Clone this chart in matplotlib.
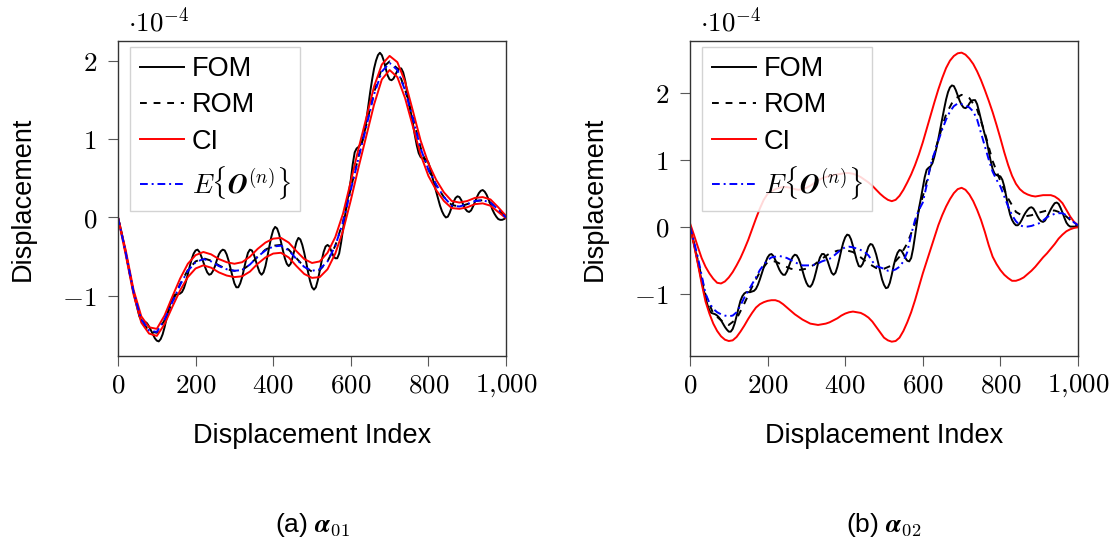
import numpy as np
import matplotlib
matplotlib.use('Agg')
import matplotlib.pyplot as plt

plt.rcParams['mathtext.fontset'] = 'cm'
plt.rcParams['font.family'] = ['Liberation Sans', 'DejaVu Sans']

# ---------------- data (values in units of 1e-4) ----------------
idx_5 = np.arange(0, 1001, 5)       # displacement index grid, step 5
idx_10 = np.arange(0, 1001, 10)     # displacement index grid, step 10
idx_20 = np.arange(0, 1001, 20)     # displacement index grid, step 20

a01_fom = [0.00, -0.10, -0.21, -0.33, -0.45, -0.58, -0.71, -0.83, -0.95, -1.06,
           -1.16, -1.26, -1.31, -1.33, -1.33, -1.35, -1.39, -1.44, -1.49, -1.54,
           -1.57, -1.58, -1.55, -1.49, -1.40, -1.29, -1.18, -1.09, -1.03, -0.99,
           -0.98, -0.98, -0.97, -0.95, -0.90, -0.82, -0.72, -0.62, -0.53, -0.46,
           -0.42, -0.41, -0.44, -0.50, -0.57, -0.64, -0.70, -0.73, -0.72, -0.68,
           -0.62, -0.54, -0.47, -0.43, -0.41, -0.42, -0.47, -0.55, -0.65, -0.75,
           -0.84, -0.89, -0.89, -0.84, -0.76, -0.65, -0.54, -0.45, -0.41, -0.42,
           -0.47, -0.55, -0.63, -0.70, -0.73, -0.70, -0.62, -0.50, -0.37, -0.25,
           -0.16, -0.12, -0.14, -0.21, -0.31, -0.42, -0.52, -0.59, -0.62, -0.59,
           -0.51, -0.41, -0.31, -0.26, -0.28, -0.35, -0.45, -0.57, -0.70, -0.81,
           -0.89, -0.92, -0.89, -0.80, -0.68, -0.55, -0.44, -0.37, -0.35, -0.37,
           -0.43, -0.49, -0.52, -0.52, -0.46, -0.32, -0.15, 0.02, 0.18, 0.32,
           0.48, 0.68, 0.83, 0.88, 0.90, 0.93, 0.98, 1.08, 1.24, 1.42,
           1.60, 1.76, 1.90, 2.00, 2.07, 2.10, 2.07, 2.00, 1.90, 1.81,
           1.76, 1.75, 1.77, 1.82, 1.87, 1.90, 1.90, 1.85, 1.75, 1.60,
           1.45, 1.33, 1.20, 1.05, 0.92, 0.82, 0.77, 0.75, 0.75, 0.74,
           0.70, 0.62, 0.52, 0.42, 0.33, 0.24, 0.15, 0.08, 0.03, 0.00,
           0.01, 0.06, 0.13, 0.20, 0.25, 0.27, 0.26, 0.22, 0.16, 0.11,
           0.08, 0.07, 0.09, 0.14, 0.20, 0.26, 0.31, 0.34, 0.35, 0.33,
           0.29, 0.23, 0.17, 0.10, 0.05, 0.01, -0.02, -0.03, -0.03, -0.02,
           0.00]
a01_rom = [0.00, -0.45, -0.96, -1.31, -1.45, -1.47, -1.31, -1.08, -0.85, -0.67,
           -0.56, -0.52, -0.55, -0.61, -0.66, -0.68, -0.67, -0.60, -0.50, -0.41,
           -0.36, -0.35, -0.41, -0.52, -0.63, -0.69, -0.67, -0.56, -0.36, -0.05,
           0.37, 0.78, 1.18, 1.60, 1.90, 1.99, 1.90, 1.63, 1.27, 0.89,
           0.61, 0.41, 0.26, 0.16, 0.14, 0.17, 0.21, 0.22, 0.19, 0.10,
           0.00]
a01_ci_up = [0.00, -0.42, -0.92, -1.26, -1.40, -1.42, -1.25, -1.01, -0.78, -0.59,
             -0.48, -0.44, -0.47, -0.53, -0.57, -0.59, -0.57, -0.50, -0.40, -0.32,
             -0.27, -0.26, -0.32, -0.43, -0.53, -0.58, -0.56, -0.45, -0.25, 0.05,
             0.46, 0.88, 1.27, 1.67, 1.95, 2.06, 1.98, 1.73, 1.36, 0.98,
             0.69, 0.48, 0.32, 0.21, 0.19, 0.21, 0.25, 0.26, 0.23, 0.13,
             0.02]
a01_ci_lo = [0.00, -0.48, -0.98, -1.34, -1.48, -1.51, -1.36, -1.14, -0.93, -0.76,
             -0.65, -0.61, -0.64, -0.70, -0.74, -0.76, -0.75, -0.69, -0.59, -0.51,
             -0.46, -0.45, -0.51, -0.62, -0.72, -0.77, -0.76, -0.66, -0.46, -0.17,
             0.22, 0.64, 1.04, 1.44, 1.76, 1.88, 1.79, 1.52, 1.16, 0.80,
             0.53, 0.35, 0.21, 0.12, 0.11, 0.13, 0.17, 0.18, 0.15, 0.07,
             -0.01]
a01_mean = [0.00, -0.45, -0.95, -1.30, -1.44, -1.46, -1.30, -1.08, -0.86, -0.68,
            -0.57, -0.53, -0.56, -0.62, -0.66, -0.68, -0.67, -0.60, -0.50, -0.42,
            -0.37, -0.36, -0.42, -0.53, -0.63, -0.68, -0.66, -0.56, -0.36, -0.06,
            0.35, 0.76, 1.16, 1.57, 1.86, 1.97, 1.88, 1.62, 1.26, 0.88,
            0.61, 0.42, 0.26, 0.15, 0.14, 0.17, 0.21, 0.22, 0.19, 0.10,
            0.00]

a02_fom = [0.00, -0.12, -0.25, -0.39, -0.53, -0.67, -0.81, -0.94, -1.06, -1.17,
           -1.25, -1.29, -1.30, -1.31, -1.33, -1.36, -1.40, -1.45, -1.50, -1.54,
           -1.57, -1.57, -1.53, -1.45, -1.34, -1.22, -1.11, -1.04, -1.00, -0.98,
           -0.98, -0.98, -0.97, -0.96, -0.93, -0.87, -0.79, -0.70, -0.61, -0.53,
           -0.46, -0.42, -0.41, -0.44, -0.50, -0.57, -0.64, -0.69, -0.72, -0.72,
           -0.67, -0.59, -0.51, -0.45, -0.42, -0.43, -0.48, -0.56, -0.66, -0.76,
           -0.84, -0.89, -0.90, -0.86, -0.78, -0.67, -0.55, -0.46, -0.41, -0.41,
           -0.45, -0.52, -0.61, -0.69, -0.72, -0.69, -0.60, -0.48, -0.35, -0.24,
           -0.16, -0.12, -0.13, -0.19, -0.29, -0.40, -0.51, -0.59, -0.60, -0.56,
           -0.48, -0.39, -0.30, -0.26, -0.27, -0.33, -0.42, -0.54, -0.67, -0.79,
           -0.87, -0.92, -0.91, -0.84, -0.72, -0.58, -0.47, -0.39, -0.35, -0.36,
           -0.41, -0.47, -0.51, -0.52, -0.47, -0.33, -0.14, 0.07, 0.27, 0.42,
           0.58, 0.74, 0.85, 0.88, 0.90, 0.95, 1.05, 1.17, 1.31, 1.46,
           1.61, 1.76, 1.90, 2.01, 2.08, 2.11, 2.10, 2.04, 1.96, 1.88,
           1.82, 1.78, 1.77, 1.79, 1.84, 1.88, 1.89, 1.89, 1.83, 1.72,
           1.60, 1.48, 1.37, 1.27, 1.12, 0.98, 0.86, 0.79, 0.77, 0.76,
           0.75, 0.70, 0.60, 0.45, 0.30, 0.18, 0.10, 0.05, 0.02, 0.02,
           0.05, 0.10, 0.16, 0.21, 0.25, 0.28, 0.29, 0.27, 0.22, 0.16,
           0.11, 0.08, 0.07, 0.09, 0.14, 0.20, 0.26, 0.31, 0.35, 0.36,
           0.34, 0.28, 0.21, 0.13, 0.06, 0.02, 0.00, 0.00, 0.00, 0.00,
           0.00]
a02_rom = [0.00, -0.50, -1.02, -1.30, -1.40, -1.47, -1.38, -1.15, -0.90, -0.68,
           -0.53, -0.52, -0.58, -0.63, -0.65, -0.63, -0.57, -0.48, -0.40, -0.36,
           -0.35, -0.38, -0.46, -0.55, -0.62, -0.63, -0.58, -0.45, -0.25, 0.05,
           0.45, 0.90, 1.30, 1.68, 1.90, 1.97, 1.92, 1.75, 1.40, 0.98,
           0.68, 0.42, 0.22, 0.15, 0.17, 0.21, 0.24, 0.24, 0.20, 0.10,
           0.00]
a02_ci_up = [0.05, -0.12, -0.30, -0.47, -0.60, -0.70, -0.78, -0.84, -0.85, -0.82,
             -0.76, -0.68, -0.58, -0.47, -0.34, -0.20, -0.04, 0.12, 0.27, 0.40,
             0.49, 0.53, 0.56, 0.58, 0.59, 0.59, 0.58, 0.56, 0.55, 0.56,
             0.58, 0.61, 0.65, 0.69, 0.72, 0.74, 0.76, 0.77, 0.78, 0.79,
             0.80, 0.80, 0.79, 0.77, 0.74, 0.70, 0.66, 0.61, 0.55, 0.49,
             0.44, 0.40, 0.38, 0.40, 0.46, 0.55, 0.66, 0.78, 0.92, 1.08,
             1.26, 1.46, 1.66, 1.86, 2.05, 2.22, 2.37, 2.48, 2.55, 2.59,
             2.60, 2.57, 2.51, 2.43, 2.32, 2.19, 2.04, 1.88, 1.71, 1.52,
             1.32, 1.11, 0.92, 0.76, 0.64, 0.56, 0.51, 0.48, 0.46, 0.45,
             0.46, 0.47, 0.47, 0.47, 0.45, 0.41, 0.35, 0.25, 0.15, 0.07,
             0.02]
a02_ci_lo = [0.00, -0.27, -0.55, -0.85, -1.12, -1.30, -1.45, -1.56, -1.64, -1.69,
             -1.71, -1.70, -1.65, -1.57, -1.48, -1.38, -1.29, -1.21, -1.16, -1.13,
             -1.11, -1.10, -1.10, -1.12, -1.16, -1.21, -1.26, -1.31, -1.35, -1.39,
             -1.42, -1.45, -1.46, -1.47, -1.46, -1.45, -1.43, -1.40, -1.37, -1.33,
             -1.30, -1.28, -1.27, -1.28, -1.29, -1.32, -1.36, -1.42, -1.50, -1.58,
             -1.66, -1.70, -1.72, -1.71, -1.66, -1.56, -1.43, -1.28, -1.10, -0.90,
             -0.70, -0.52, -0.34, -0.16, 0.02, 0.17, 0.30, 0.41, 0.50, 0.56,
             0.58, 0.55, 0.48, 0.38, 0.25, 0.10, -0.08, -0.28, -0.45, -0.56,
             -0.65, -0.72, -0.77, -0.81, -0.81, -0.79, -0.76, -0.71, -0.66, -0.60,
             -0.53, -0.46, -0.40, -0.33, -0.26, -0.18, -0.12, -0.07, -0.04, -0.02,
             -0.01]
a02_mean = [0.00, -0.22, -0.45, -0.73, -1.00, -1.14, -1.23, -1.28, -1.31, -1.33,
            -1.34, -1.33, -1.28, -1.18, -1.06, -0.96, -0.86, -0.76, -0.65, -0.57,
            -0.50, -0.46, -0.45, -0.44, -0.45, -0.47, -0.50, -0.53, -0.56, -0.58,
            -0.58, -0.58, -0.57, -0.55, -0.52, -0.50, -0.48, -0.44, -0.39, -0.34,
            -0.31, -0.30, -0.31, -0.33, -0.35, -0.38, -0.43, -0.52, -0.59, -0.61,
            -0.63, -0.66, -0.66, -0.64, -0.60, -0.52, -0.38, -0.12, 0.10, 0.25,
            0.36, 0.62, 0.92, 1.10, 1.28, 1.45, 1.60, 1.72, 1.80, 1.84,
            1.83, 1.81, 1.78, 1.72, 1.60, 1.40, 1.20, 1.00, 0.82, 0.70,
            0.60, 0.45, 0.30, 0.17, 0.08, 0.02, 0.00, 0.00, 0.01, 0.03,
            0.05, 0.09, 0.14, 0.17, 0.19, 0.20, 0.20, 0.17, 0.12, 0.06,
            0.02]

x_ticks = [0, 200, 400, 600, 800, 1000]
x_tick_labels = ['$0$', '$200$', '$400$', '$600$', '$800$', '$1{,}000$']
y_ticks = [-1, 0, 1, 2]
y_tick_labels = ['$-1$', '$0$', '$1$', '$2$']
legend_labels = ['FOM', 'ROM', 'CI', r'$E\{\mathbfit{O}^{(n)}\}$']
captions = [r'(a) $\mathbfit{\alpha}_{01}$', r'(b) $\mathbfit{\alpha}_{02}$']

# ---------------- figure ----------------
FS = 19.5
LW = 1.4
fig = plt.figure(figsize=(11.14, 5.46), dpi=100)
ax1 = fig.add_axes([118/1114, 190/546, 388/1114, 315/546])
ax2 = fig.add_axes([690/1114, 190/546, 388/1114, 315/546])

panels = [
    (ax1, (idx_5, a01_fom), (idx_20, a01_rom), (idx_20, a01_ci_up), (idx_20, a01_ci_lo),
     (idx_20, a01_mean), (-1.766, 2.25), 312, captions[0]),
    (ax2, (idx_5, a02_fom), (idx_20, a02_rom), (idx_10, a02_ci_up), (idx_10, a02_ci_lo),
     (idx_10, a02_mean), (-1.934, 2.774), 884, captions[1]),
]

for ax, fom, rom, cu, cl, mean, ylim, cx, cap in panels:
    ax.plot(*fom, color='black', lw=LW, label=legend_labels[0])
    ax.plot(*rom, color='black', lw=LW, ls=(0, (3.5, 3.5)), label=legend_labels[1])
    ax.plot(*cu, color='red', lw=LW, label=legend_labels[2])
    ax.plot(*cl, color='red', lw=LW)
    ax.plot(*mean, color='blue', lw=LW, ls=(0, (4, 2, 1, 2)), label=legend_labels[3])

    ax.set_xlim(0, 1000)
    ax.set_ylim(*ylim)
    ax.set_xticks(x_ticks, labels=x_tick_labels)
    ax.set_yticks(y_ticks, labels=y_tick_labels)
    ax.tick_params(direction='out', length=7.2, width=0.8, color='0.35', labelsize=FS)
    ax.tick_params(axis='x', pad=5)
    ax.tick_params(axis='y', pad=8)
    for s in ax.spines.values():
        s.set_linewidth(1.0)
        s.set_color('0.2')

    ax.text(0.026, 1.032, r'$\cdot 10^{-4}$', transform=ax.transAxes,
            fontsize=FS, ha='left', va='baseline')
    ax.text(-0.245, 0.5, 'Displacement', rotation=90, transform=ax.transAxes,
            fontsize=FS, ha='center', va='center')
    ax.text(0.5, -0.254, 'Displacement Index', transform=ax.transAxes,
            fontsize=FS, ha='center', va='center')

    leg = ax.legend(loc='upper left', bbox_to_anchor=(0.031, 0.981), borderaxespad=0,
                    fontsize=FS, handlelength=1.63, handletextpad=0.3,
                    labelspacing=0.37, borderpad=0.35, fancybox=False,
                    framealpha=0.85, edgecolor='0.8')
    leg.get_frame().set_linewidth(1.0)

    fig.text(cx / 1114, 1 - 525 / 546, cap, ha='center', va='center', fontsize=19)

fig.savefig('out.png', dpi=100)
